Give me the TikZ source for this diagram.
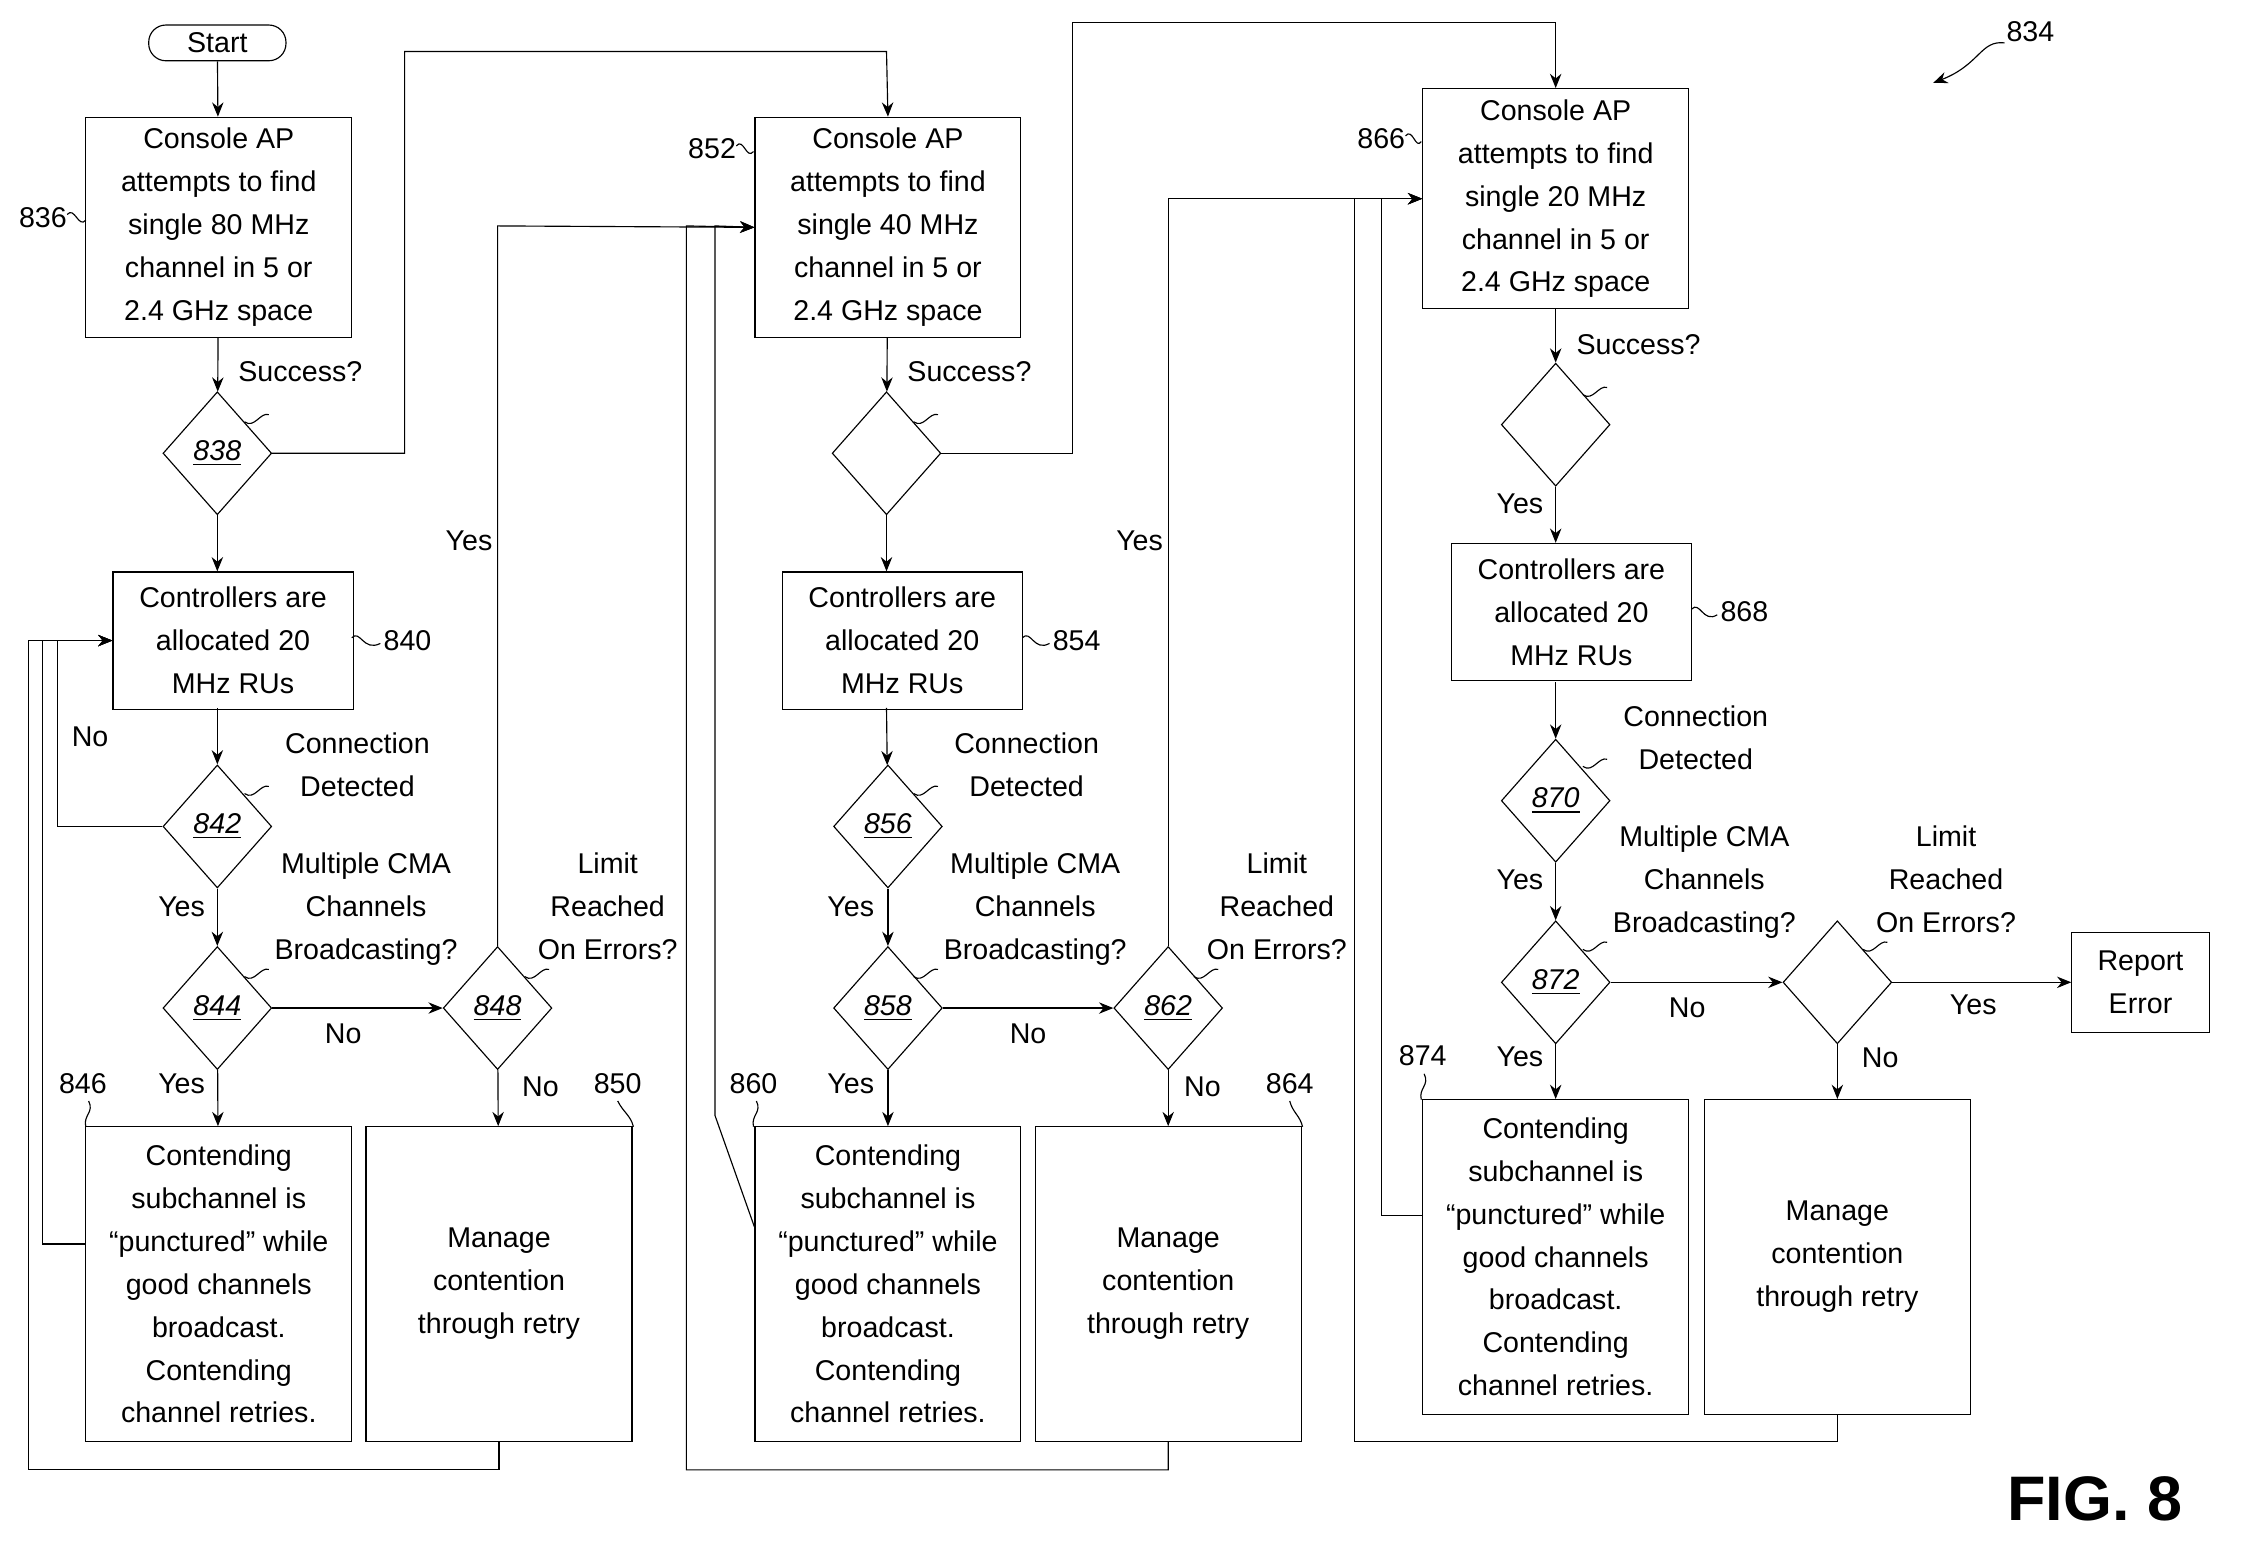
\documentclass[tikz,border=0pt]{standalone}
\usepackage{fontspec}
\setmainfont{Liberation Sans}
\usetikzlibrary{shapes.geometric,arrows.meta}
\tikzset{
  box/.style={draw, align=center, inner sep=0pt, minimum width=93pt, minimum height=77pt, font=\fontsize{10}{15}\selectfont},
  sbox/.style={box, minimum width=84pt, minimum height=48pt},
  tbox/.style={box, minimum height=110pt},
  dec/.style={draw, diamond, inner sep=0pt, minimum width=38pt, minimum height=43pt, font=\fontsize{10}{12}\selectfont\itshape},
  lbl/.style={align=center, font=\fontsize{10}{15}\selectfont},
  flow/.style={-{Stealth[length=5pt,width=4pt]}},
}
\newcommand{\refnum}[1]{\underline{#1}}
\begin{document}
\begin{tikzpicture}[x=0.5pt,y=-0.5pt]
\useasboundingbox (0,0) rectangle (1568,1081);
% Drawing nodes, first column
\node[draw, rounded corners=6pt, minimum width=48pt, minimum height=12.5pt, inner sep=0pt, font=\fontsize{10}{12}\selectfont] (start) at (152,30) {Start};
\node[box] (b836) at (153,159) {Console AP\\attempts to find\\single 80 MHz\\channel in 5 or\\2.4 GHz space};
\node[dec] (d838) at (152,317) {\refnum{838}};
\node[sbox] (b840) at (163,448) {Controllers are\\allocated 20\\MHz RUs};
\node[dec] (d842) at (152,578) {\refnum{842}};
\node[dec] (d844) at (152,705) {\refnum{844}};
\node[dec] (d848) at (348,705) {\refnum{848}};
\node[tbox] (b846) at (153,898) {Contending\\subchannel is\\``punctured'' while\\good channels\\broadcast.\\Contending\\channel retries.};
\node[tbox] (b850) at (349,898) {Manage\\contention\\through retry};
% Drawing nodes, second column
\node[box] (b852) at (621,159) {Console AP\\attempts to find\\single 40 MHz\\channel in 5 or\\2.4 GHz space};
\node[dec] (d852) at (620,317) {};
\node[sbox] (b854) at (631,448) {Controllers are\\allocated 20\\MHz RUs};
\node[dec] (d856) at (621,578) {\refnum{856}};
\node[dec] (d858) at (621,705) {\refnum{858}};
\node[dec] (d862) at (817,705) {\refnum{862}};
\node[tbox] (b860) at (621,898) {Contending\\subchannel is\\``punctured'' while\\good channels\\broadcast.\\Contending\\channel retries.};
\node[tbox] (b864) at (817,898) {Manage\\contention\\through retry};
% Drawing nodes, third column
\node[box] (b866) at (1088,139) {Console AP\\attempts to find\\single 20 MHz\\channel in 5 or\\2.4 GHz space};
\node[dec] (d866) at (1088,297) {};
\node[sbox] (b868) at (1099,428) {Controllers are\\allocated 20\\MHz RUs};
\node[dec] (d870) at (1088,560) {\refnum{870}};
\node[dec] (d872) at (1088,687) {\refnum{872}};
\node[dec] (d876) at (1285,687) {};
\node[tbox] (b874) at (1088,879) {Contending\\subchannel is\\``punctured'' while\\good channels\\broadcast.\\Contending\\channel retries.};
\node[tbox] (b878) at (1285,879) {Manage\\contention\\through retry};
\node[box, minimum width=48pt, minimum height=35pt] (err) at (1497,687) {Report\\Error};
% Drawing connectors, first column
\draw[flow] (start) -- (b836);
\draw[flow] (b836) -- (d838);
\draw[flow] (d838.east) -- (283,317) -- (283,36) -- (620,36) -- (b852.north);
\draw[flow] (d838.south) -- (d838.south |- b840.north);
\draw[flow] (152,495) -- (d842);
\draw[flow] (d842.west) -- (40,578) -- (40,448) -- (b840.west);
\draw[flow] (d842) -- (d844);
\draw[flow] (d844) -- (d848);
\draw[flow] (d844) -- (b846);
\draw[flow] (d848) -- (b850);
\draw[flow] (d848.north) -- (348,158) -- (b852.west);
\draw[flow] (b846.west |- 0,870) -- (30,870) -- (30,448) -- (b840.west);
\draw[flow] (b850.south) -- (349,1028) -- (20,1028) -- (20,448) -- (b840.west);
% Drawing connectors, second column
\draw[flow] (b852) -- (d852);
\draw[flow] (d852.east) -- (750,317) -- (750,16) -- (1088,16) -- (b866.north);
\draw[flow] (d852.south) -- (d852.south |- b854.north);
\draw[flow] (620,495) -- (d856);
\draw[flow] (d856) -- (d858);
\draw[flow] (d858) -- (d862);
\draw[flow] (d858) -- (b860);
\draw[flow] (d862) -- (b864);
\draw[flow] (d862.north) -- (817,139) -- (b866.west);
\draw[flow] (b860.west |- 0,858) -- (500,780) -- (500,158) -- (b852.west);
\draw[flow] (b864.south) -- (817,1028) -- (480,1028) -- (480,158) -- (b852.west);
% Drawing connectors, third column
\draw[flow] (b866) -- (d866);
\draw[flow] (d866.south) -- (d866.south |- b868.north);
\draw[flow] (1088,477) -- (d870);
\draw[flow] (d870) -- (d872);
\draw[flow] (d872) -- (d876);
\draw[flow] (d872) -- (b874);
\draw[flow] (d876) -- (b878);
\draw[flow] (d876) -- (err);
\draw[flow] (b874.west |- 0,850) -- (966,850) -- (966,139) -- (b866.west);
\draw[flow] (b878.south) -- (1285,1008) -- (947,1008) -- (947,139) -- (b866.west);
% Drawing decision labels
\foreach \dx/\sy in {0/0, 468/0, 936/-19} {
  \node[lbl] at (210+\dx,260+\sy) {Success?};
  \node[lbl] at (250+\dx,535+\sy) {Connection\\Detected};
  \node[lbl] at (256+\dx,636+\sy) {Multiple CMA\\Channels\\Broadcasting?};
  \node[lbl] at (425+\dx,634+\sy) {Limit\\Reached\\On Errors?};
  \node[lbl] at (127+\dx,634+\sy) {Yes};
  \node[lbl] at (127+\dx,758+\sy) {Yes};
}
\node[lbl] at (328,378) {Yes};
\node[lbl] at (797,378) {Yes};
\node[lbl] at (1063,352) {Yes};
\node[lbl] at (63,515) {No};
\node[lbl] at (240,723) {No};
\node[lbl] at (719,723) {No};
\node[lbl] at (1180,705) {No};
\node[lbl] at (378,760) {No};
\node[lbl] at (841,760) {No};
\node[lbl] at (1315,740) {No};
\node[lbl] at (1380,703) {Yes};
% Drawing reference numerals
\node[lbl] at (30,152) {836};
\draw (47,150) .. controls (52,144) and (55,160) .. (60,154);
\node[lbl] at (498,104) {852};
\draw (515,102) .. controls (520,96) and (522,112) .. (527,106);
\node[lbl] at (966,97) {866};
\draw (983,95) .. controls (988,89) and (990,105) .. (994,99);
\node[lbl] at (285,448) {840};
\draw (246,446) .. controls (252,440) and (254,456) .. (266,450);
\node[lbl] at (753,448) {854};
\draw (715,446) .. controls (721,440) and (723,456) .. (734,450);
\node[lbl] at (1220,428) {868};
\draw (1183,426) .. controls (1189,420) and (1191,436) .. (1201,430);
\node[lbl] at (58,758) {846};
\draw (60,788) .. controls (58,780) and (66,778) .. (62,770);
\node[lbl] at (432,758) {850};
\draw (443,788) .. controls (441,780) and (436,778) .. (432,770);
\node[lbl] at (527,758) {860};
\draw (527,788) .. controls (525,780) and (533,778) .. (529,770);
\node[lbl] at (902,758) {864};
\draw (911,788) .. controls (909,780) and (904,778) .. (902,770);
\node[lbl] at (995,738) {874};
\draw (994,769) .. controls (992,761) and (1000,759) .. (996,751);
\foreach \dx/\sy in {0/0, 468/0, 936/-19} {
  \draw (171+\dx,295+\sy) .. controls +(7,5) and +(-6,-2) .. (188+\dx,290+\sy);
  \draw (171+\dx,555+\sy) .. controls +(7,5) and +(-6,-2) .. (188+\dx,550+\sy);
  \draw (171+\dx,683+\sy) .. controls +(7,5) and +(-6,-2) .. (188+\dx,678+\sy);
  \draw (367+\dx,683+\sy) .. controls +(7,5) and +(-6,-2) .. (384+\dx,678+\sy);
}
\draw[flow] (1402,30) .. controls (1385,28) and (1385,45) .. (1352,58);
\node[lbl] at (1420,22) {834};
\node[font=\fontsize{22}{22}\selectfont\bfseries] at (1465,1048) {FIG. 8};
\end{tikzpicture}
\end{document}
